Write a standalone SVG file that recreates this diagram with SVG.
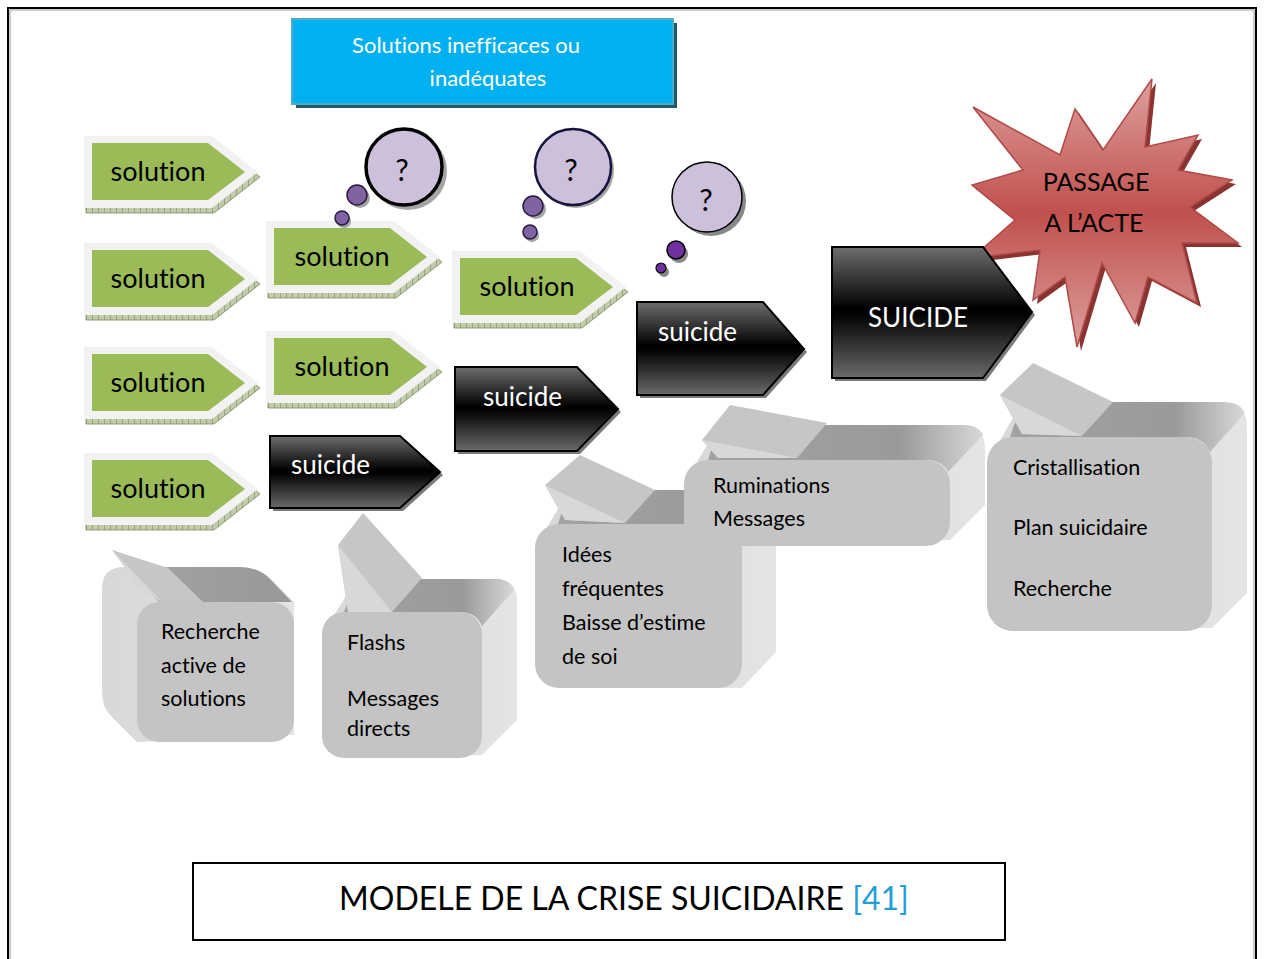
<svg xmlns="http://www.w3.org/2000/svg" width="1264" height="959" viewBox="0 0 1264 959">
<defs>
<style>
.t{font-family:Lato,"Liberation Sans",sans-serif;fill:#000;font-variant-ligatures:none;font-feature-settings:"liga" 0,"clig" 0}
.sol{font-size:27px}
.wt{fill:#fff}
.gb{font-size:21.5px}
.solOut{fill:#f2f2f2}
.solIn{fill:#9bbb59}
.solSh{fill:url(#hatch);stroke:#7d8a60;stroke-width:0.8}
.sui{fill:url(#suiGrad);stroke:#000;stroke-width:2}
.suiSh{fill:#7a7a7a}
.front{fill:#c4c4c4}
.hull{fill:url(#sideGrad)}
.topf{fill:url(#topGrad)}
.ptr{fill:#c6c6c6}
.fold{fill:#d8d8d8}
.bub{fill:#ccc0da}
.dot{fill:#8064a2;stroke:#2b1a40;stroke-width:1.5}
.bsh{fill:#8d8d8d;opacity:0.8}
</style>
<pattern id="hatch" width="6" height="6" patternUnits="userSpaceOnUse">
<rect width="6" height="6" fill="#c2ccaa"/>
<path d="M0,0 V6" stroke="#6f7d52" stroke-width="1"/>
</pattern>
<linearGradient id="suiGrad" x1="0" y1="0" x2="0" y2="1">
<stop offset="0" stop-color="#6e6e6e"/>
<stop offset="0.47" stop-color="#000"/>
<stop offset="0.53" stop-color="#050505"/>
<stop offset="1" stop-color="#6a6a6a"/>
</linearGradient>
<linearGradient id="starGrad" x1="0" y1="0" x2="0" y2="1">
<stop offset="0" stop-color="#dea09e"/>
<stop offset="0.5" stop-color="#c0504d"/>
<stop offset="1" stop-color="#dca09e"/>
</linearGradient>
<linearGradient id="topGrad" x1="0" y1="0" x2="1" y2="0">
<stop offset="0" stop-color="#a2a2a2"/>
<stop offset="0.7" stop-color="#9a9a9a"/>
<stop offset="1" stop-color="#d8d8d8"/>
</linearGradient>
<linearGradient id="topGradL" x1="0" y1="0" x2="1" y2="0">
<stop offset="0" stop-color="#d0d0d0"/>
<stop offset="0.3" stop-color="#a0a0a0"/>
<stop offset="1" stop-color="#989898"/>
</linearGradient>
<linearGradient id="sideGrad" x1="0" y1="0" x2="1" y2="0">
<stop offset="0" stop-color="#d8d8d8"/>
<stop offset="1" stop-color="#e4e4e4"/>
</linearGradient>
<path id="solOuter" d="M0,0 H128 L174,36 L128,72 H0 Z"/>
<path id="solInner" d="M8,7 H124 L161,36 L124,64 H8 Z"/>
</defs>

<rect x="0" y="0" width="1264" height="959" fill="#fff"/>
<rect x="8" y="8" width="1248" height="970" fill="none" stroke="#000" stroke-width="2"/>
<rect x="10" y="10" width="1244" height="970" fill="none" stroke="#999" stroke-width="1"/>

<g id="connectors"></g>

<g id="top-box">
<rect x="296" y="23" width="381" height="85" fill="#215a6a"/>
<rect x="292" y="19" width="381" height="85" fill="#00b0f0" stroke="#4bacc6" stroke-width="2"/>
<text class="t wt" x="466" y="53" font-size="22" text-anchor="middle">Solutions inefficaces ou</text>
<text class="t wt" x="488" y="86" font-size="22" text-anchor="middle">inadéquates</text>
</g>

<g id="sol-1" transform="translate(84,136)">
<use href="#solOuter" class="solSh" transform="translate(2,5)"/>
<use href="#solOuter" class="solOut"/>
<use href="#solInner" class="solIn"/>
<text class="t sol" x="74" y="45" text-anchor="middle">solution</text>
</g>
<g id="sol-2" transform="translate(84,243)">
<use href="#solOuter" class="solSh" transform="translate(2,5)"/>
<use href="#solOuter" class="solOut"/>
<use href="#solInner" class="solIn"/>
<text class="t sol" x="74" y="45" text-anchor="middle">solution</text>
</g>
<g id="sol-3" transform="translate(84,347)">
<use href="#solOuter" class="solSh" transform="translate(2,5)"/>
<use href="#solOuter" class="solOut"/>
<use href="#solInner" class="solIn"/>
<text class="t sol" x="74" y="45" text-anchor="middle">solution</text>
</g>
<g id="sol-4" transform="translate(84,453)">
<use href="#solOuter" class="solSh" transform="translate(2,5)"/>
<use href="#solOuter" class="solOut"/>
<use href="#solInner" class="solIn"/>
<text class="t sol" x="74" y="45" text-anchor="middle">solution</text>
</g>
<g id="sol-5" transform="translate(266,221)">
<use href="#solOuter" class="solSh" transform="translate(2,5)"/>
<use href="#solOuter" class="solOut"/>
<use href="#solInner" class="solIn"/>
<text class="t sol" x="76" y="45" text-anchor="middle">solution</text>
</g>
<g id="sol-6" transform="translate(266,331)">
<use href="#solOuter" class="solSh" transform="translate(2,5)"/>
<use href="#solOuter" class="solOut"/>
<use href="#solInner" class="solIn"/>
<text class="t sol" x="76" y="45" text-anchor="middle">solution</text>
</g>
<g id="sol-7" transform="translate(452,251)">
<use href="#solOuter" class="solSh" transform="translate(2,5)"/>
<use href="#solOuter" class="solOut"/>
<use href="#solInner" class="solIn"/>
<text class="t sol" x="75" y="45" text-anchor="middle">solution</text>
</g>

<g id="bubble-1">
<circle cx="408" cy="171" r="39" class="bsh"/>
<circle cx="404" cy="167" r="38" class="bub" stroke="#000" stroke-width="3.5"/>
<text class="t" x="402" y="181" font-size="30" text-anchor="middle">?</text>
<circle cx="360" cy="198" r="10" class="bsh"/>
<circle cx="357" cy="195" r="10" class="dot" fill="#7d63a0"/>
<circle cx="344" cy="221" r="7" class="bsh"/>
<circle cx="342" cy="218" r="7" class="dot"/>
</g>
<g id="bubble-2">
<circle cx="576" cy="170" r="38" class="bsh"/>
<circle cx="573" cy="167" r="38" class="bub" stroke="#14143c" stroke-width="2.5"/>
<text class="t" x="571" y="181" font-size="30" text-anchor="middle">?</text>
<circle cx="536" cy="209" r="10" class="bsh"/>
<circle cx="533" cy="206" r="10" class="dot"/>
<circle cx="532" cy="235" r="7" class="bsh"/>
<circle cx="530" cy="232" r="7" class="dot"/>
</g>
<g id="bubble-3">
<circle cx="711" cy="201" r="35" fill="#888"/>
<circle cx="707" cy="197" r="35" class="bub" stroke="#000" stroke-width="1.5"/>
<text class="t" x="706" y="211" font-size="30" text-anchor="middle">?</text>
<circle cx="679" cy="254" r="9" fill="#888"/>
<circle cx="676" cy="250" r="9" fill="#7030a0" stroke="#000" stroke-width="1.5"/>
<circle cx="664" cy="272" r="5" fill="#888"/>
<circle cx="661" cy="268" r="5" fill="#7030a0" stroke="#000" stroke-width="1.2"/>
</g>

<g id="suicide-1">
<path class="suiSh" d="M273,439 H403 L443,475 L403,511 H273 Z"/>
<path class="sui" d="M270,436 H400 L440,472 L400,508 H270 Z"/>
<text class="t wt" x="291" y="474" font-size="26">suicide</text>
</g>
<g id="suicide-2">
<path class="suiSh" d="M458,370 H580 L621,412 L580,454 H458 Z"/>
<path class="sui" d="M455,367 H577 L618,409 L577,451 H455 Z"/>
<text class="t wt" x="483" y="406" font-size="26">suicide</text>
</g>
<g id="suicide-3">
<path class="suiSh" d="M640,305 H766 L807,352 L766,398 H640 Z"/>
<path class="sui" d="M637,302 H763 L804,349 L763,395 H637 Z"/>
<text class="t wt" x="658" y="341" font-size="26">suicide</text>
</g>

<g id="passage">
<path transform="translate(4,4)" fill="#8a3432" d="M973,107 L1060,155 L1075,109 L1103,150 L1152,79 L1145,147 L1198,135 L1178,170 L1232,180 L1190,207 L1238,243 L1182,243 L1197,303 L1148,277 L1135,323 L1102,263 L1077,347 L1065,277 L1033,300 L1040,250 L972,258 L1015,220 L972,185 L1023,170 Z"/>
<path fill="url(#starGrad)" stroke="#b04a47" stroke-width="1.5" d="M973,107 L1060,155 L1075,109 L1103,150 L1152,79 L1145,147 L1198,135 L1178,170 L1232,180 L1190,207 L1238,243 L1182,243 L1197,303 L1148,277 L1135,323 L1102,263 L1077,347 L1065,277 L1033,300 L1040,250 L972,258 L1015,220 L972,185 L1023,170 Z"/>
</g>

<g id="suicide-big">
<path class="suiSh" d="M835,250 H986 L1035,315 L986,381 H835 Z"/>
<path class="sui" d="M832,247 H983 L1032,312 L983,378 H832 Z"/>
<text class="t wt" x="918" y="327" font-size="26" text-anchor="middle">SUICIDE</text>
</g>
<g id="passage-text">
<text class="t" x="1096" y="191" font-size="25" text-anchor="middle">PASSAGE</text>
<text class="t" x="1094" y="232" font-size="25" text-anchor="middle">A L’ACTE</text>
</g>

<g id="box-1">
<path class="hull" d="M124,567 H237 Q259,567 272,580 L294,602 V735 L137,742 L110,715 Q102,707 102,690 V589 Q102,567 124,567 Z"/>
<path fill="url(#topGradL)" d="M124,567 H240 Q258,567 270,579 L292,602 H159 Z"/>
<path class="ptr" d="M112,550 L168,568 L203,602 L162,602 L140,588 Z"/>
<path class="fold" d="M112,550 L162,602 L140,588 Z"/>
<rect class="front" x="137" y="602" width="157" height="140" rx="22"/>
<text class="t gb" x="161" y="639">Recherche</text>
<text class="t gb" x="161" y="673">active de</text>
<text class="t gb" x="161" y="706">solutions</text>
</g>

<g id="box-2">
<path class="hull" d="M357,579 H495 Q517,579 517,601 V720 L482,755 L344,758 L322,634 Z"/>
<path class="topf" d="M357,579 H497 Q510,579 514,590 L482,626 Q476,612 460,612 H344 Z"/>
<path class="ptr" d="M338,545 L363,513 L422,578 L392,612 L348,612 Z"/>
<path class="fold" d="M338,545 L392,612 L348,612 Z"/>
<rect class="front" x="322" y="612" width="160" height="146" rx="22"/>
<text class="t gb" x="347" y="650">Flashs</text>
<text class="t gb" x="347" y="706">Messages</text>
<text class="t gb" x="347" y="736">directs</text>
</g>

<g id="box-3">
<path class="hull" d="M569,490 H752 Q776,490 776,514 V652 L742,688 L560,688 L535,548 Z"/>
<path class="topf" d="M569,490 H754 Q770,490 774,500 L740,538 Q734,524 718,524 H558 Z"/>
<path class="ptr" d="M545,485 L580,455 L655,490 L625,523 L565,520 Z"/>
<path class="fold" d="M545,485 L625,523 L565,520 Z"/>
<rect class="front" x="535" y="524" width="207" height="164" rx="24"/>
<text class="t gb" x="562" y="562">Idées</text>
<text class="t gb" x="562" y="596">fréquentes</text>
<text class="t gb" x="562" y="630">Baisse d’estime</text>
<text class="t gb" x="562" y="664">de soi</text>
</g>

<g id="box-4">
<path class="hull" d="M719,425 H961 Q985,425 985,449 V505 L950,540 L708,546 L684,484 Z"/>
<path class="topf" d="M719,425 H963 Q979,425 983,435 L948,472 Q942,460 926,460 H708 Z"/>
<path class="ptr" d="M702,440 L730,405 L827,423 L797,458 L718,458 Z"/>
<path class="fold" d="M702,440 L797,458 L718,458 Z"/>
<rect class="front" x="684" y="460" width="266" height="86" rx="24"/>
<text class="t gb" x="713" y="493">Ruminations</text>
<text class="t gb" x="713" y="526">Messages</text>
</g>

<g id="box-5">
<path class="hull" d="M1022,402 H1221 Q1247,402 1247,428 V593 L1212,628 L1010,631 L987,463 Z"/>
<path class="topf" d="M1022,402 H1223 Q1240,402 1245,413 L1210,452 Q1203,437 1186,437 H1010 Z"/>
<path class="ptr" d="M1000,395 L1033,363 L1113,402 L1082,436 L1022,434 Z"/>
<path class="fold" d="M1000,395 L1082,436 L1022,434 Z"/>
<rect class="front" x="987" y="437" width="225" height="194" rx="26"/>
<text class="t gb" x="1013" y="475">Cristallisation</text>
<text class="t gb" x="1013" y="535">Plan suicidaire</text>
<text class="t gb" x="1013" y="596">Recherche</text>
</g>

<g id="caption">
<rect x="193" y="863" width="812" height="77" fill="#fff" stroke="#000" stroke-width="2"/>
<text class="t" x="624" y="910" font-size="32" text-anchor="middle">MODELE DE LA CRISE SUICIDAIRE <tspan fill="#1fa0d6">[41]</tspan></text>
</g>
</svg>
